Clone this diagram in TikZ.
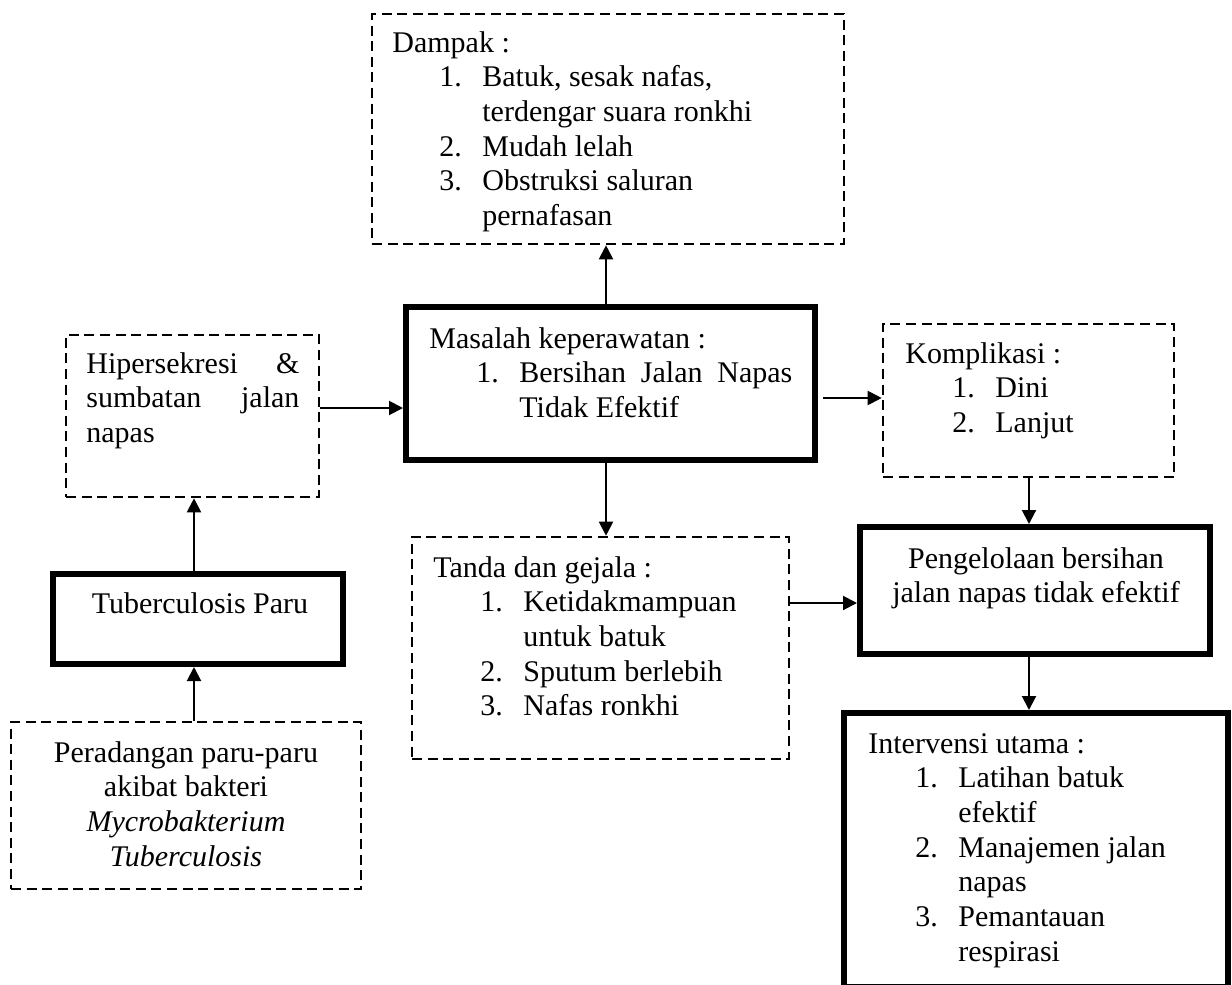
\documentclass[tikz,border=0pt]{standalone}
\usepackage{fontspec}
\setmainfont{Liberation Serif}
\usetikzlibrary{arrows.meta,fit}
\newdimen\pxu \pxu=0.5pt
\newcommand{\itm}[2]{\hspace*{47\pxu}\makebox[43\pxu][l]{#1}#2}
\newcommand{\cnt}[1]{\hspace*{90\pxu}#1}
\tikzset{
 dbox/.style={draw, dash pattern=on 5pt off 2.8pt, line width=1.3pt, inner sep=0pt},
 tbox/.style={draw, line width=3pt, inner sep=0pt},
 arr/.style={-{Triangle[length=7pt,width=7pt]}, line width=1pt},
 txt/.style={inner sep=0pt, anchor=base west, font=\fontsize{15}{17.35}\selectfont},
 ctxt/.style={inner sep=0pt, anchor=base, font=\fontsize{15}{17.35}\selectfont},
}
\begin{document}
\begin{tikzpicture}[x=0.5pt,y=-0.5pt]
\useasboundingbox (0,0) rectangle (1232,985);
\clip (0,0) rectangle (1232,985);
% boxes
\node[dbox, fit={(372,14) (844,244)}] (dampak) {};
\node[dbox, fit={(66,335) (319,497)}] (hiper) {};
\node[tbox, fit={(406,307) (815,460)}] (masalah) {};
\node[dbox, fit={(883,324) (1174,477)}] (kompl) {};
\node[tbox, fit={(53,574) (343,664)}] (tb) {};
\node[dbox, fit={(11,722) (361,889)}] (per) {};
\node[dbox, fit={(412,537) (789,759)}] (tanda) {};
\node[tbox, fit={(860,527) (1210,654)}] (peng) {};
\node[tbox, fit={(844,713) (1228,987)}] (interv) {};
% texts
\node[txt] (tdampak) at (392,52) {\begin{tabular}[t]{@{}l@{}}Dampak :\\
 \itm{1.}{Batuk, sesak nafas,}\\
 \cnt{terdengar suara ronkhi}\\
 \itm{2.}{Mudah lelah}\\
 \itm{3.}{Obstruksi saluran}\\
 \cnt{pernafasan}\end{tabular}};
\node[txt] (thiper) at (86,373) {\begin{tabular}[t]{@{}l@{}}\hbox to 213\pxu{Hipersekresi\hfill\&}\\
 \hbox to 213\pxu{sumbatan\hfill jalan}\\
 napas\end{tabular}};
\node[txt] (tmasalah) at (429,348) {\begin{tabular}[t]{@{}l@{}}Masalah keperawatan :\\
 \itm{1.}{\hbox to 273\pxu{Bersihan\hfill Jalan\hfill Napas}}\\
 \cnt{Tidak Efektif}\end{tabular}};
\node[txt] (tkompl) at (905,363) {\begin{tabular}[t]{@{}l@{}}Komplikasi :\\
 \itm{1.}{Dini}\\
 \itm{2.}{Lanjut}\end{tabular}};
\node[ctxt] (ttb) at (200,613) {Tuberculosis Paru};
\node[ctxt] (tper) at (186,762) {\begin{tabular}[t]{@{}c@{}}Peradangan paru-paru\\
 akibat bakteri\\
 \textit{Mycrobakterium}\\
 \textit{Tuberculosis}\end{tabular}};
\node[txt] (ttanda) at (433,577) {\begin{tabular}[t]{@{}l@{}}Tanda dan gejala :\\
 \itm{1.}{Ketidakmampuan}\\
 \cnt{untuk batuk}\\
 \itm{2.}{Sputum berlebih}\\
 \itm{3.}{Nafas ronkhi}\end{tabular}};
\node[ctxt] (tpeng) at (1036,568) {\begin{tabular}[t]{@{}c@{}}Pengelolaan bersihan\\
 jalan napas tidak efektif\end{tabular}};
\node[txt] (tinterv) at (868,753) {\begin{tabular}[t]{@{}l@{}}Intervensi utama :\\
 \itm{1.}{Latihan batuk}\\
 \cnt{efektif}\\
 \itm{2.}{Manajemen jalan}\\
 \cnt{napas}\\
 \itm{3.}{Pemantauan}\\
 \cnt{respirasi}\end{tabular}};
% connector positions
\coordinate (cA) at (606,0);
\coordinate (cB) at (0,408);
\coordinate (cC) at (194,0);
\coordinate (cD) at (0,398);
\coordinate (cE) at (1029,0);
\coordinate (cF) at (0,603);
% connectors
\draw[arr] (masalah.north -| cA) -- (dampak.south -| cA);
\draw[arr] (masalah.south -| cA) -- (tanda.north -| cA);
\draw[arr] (hiper.east |- cB) -- (masalah.west |- cB);
\draw[arr] (tb.north -| cC) -- (hiper.south -| cC);
\draw[arr] (per.north -| cC) -- (tb.south -| cC);
\draw[arr, shorten <=2.5pt] (masalah.east |- cD) -- (kompl.west |- cD);
\draw[arr] (kompl.south -| cE) -- (peng.north -| cE);
\draw[arr] (tanda.east |- cF) -- (peng.west |- cF);
\draw[arr] (peng.south -| cE) -- (interv.north -| cE);
\end{tikzpicture}
\end{document}
